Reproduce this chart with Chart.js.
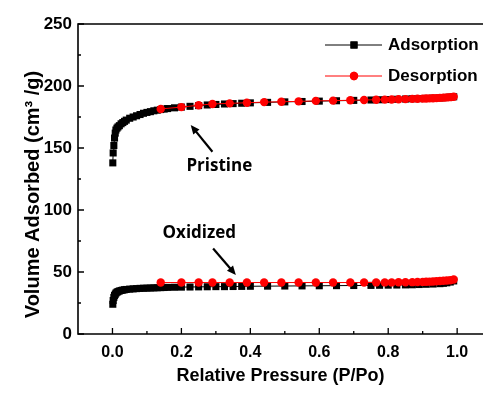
<!DOCTYPE html>
<html>
<head>
<meta charset="utf-8">
<script src="https://cdn.jsdelivr.net/npm/chart.js@4.4.1/dist/chart.umd.min.js"></script>
<style>
  html, body { margin: 0; padding: 0; background: #fff; }
  #wrap { width: 488px; height: 395px; }
</style>
</head>
<body>
<div id="wrap"><canvas id="isoChart"></canvas></div>
<script>
// relative pressure (P/Po) of the adsorption branch
var adsX = [0.001, 0.002, 0.004, 0.006, 0.008, 0.01, 0.013, 0.016, 0.02, 0.025,
  0.03, 0.035, 0.04, 0.05, 0.06, 0.07, 0.08, 0.09, 0.1, 0.11,
  0.12, 0.13, 0.14, 0.15, 0.16, 0.18, 0.2, 0.225, 0.25, 0.275,
  0.3, 0.325, 0.35, 0.375, 0.4, 0.45, 0.5, 0.55, 0.6, 0.65,
  0.7, 0.75, 0.775, 0.8, 0.825, 0.85, 0.87, 0.89, 0.91, 0.93,
  0.95, 0.96, 0.97, 0.98, 0.99];
var pristineAds = [138, 146, 152, 158, 162, 164.5, 166, 167, 168, 169.5,
  170.5, 171.5, 172.5, 174, 175, 176, 177, 178, 178.7, 179.3,
  180, 180.5, 181, 181.4, 181.8, 182.4, 183, 183.6, 184.2, 184.7,
  185.1, 185.5, 185.8, 186.1, 186.4, 186.8, 187.2, 187.5, 187.8, 188.1,
  188.4, 188.7, 188.9, 189.1, 189.3, 189.5, 189.7, 189.8, 190, 190.2,
  190.4, 190.6, 190.8, 191, 191.3];
var oxidizedAds = [24, 27, 29.5, 31, 32, 33, 33.7, 34.2, 34.7, 35.1,
  35.4, 35.7, 35.9, 36.2, 36.4, 36.6, 36.8, 36.9, 37, 37.1,
  37.2, 37.3, 37.4, 37.5, 37.6, 37.7, 37.8, 37.9, 38, 38.1,
  38.2, 38.2, 38.3, 38.4, 38.5, 38.6, 38.7, 38.8, 38.9, 39,
  39.1, 39.2, 39.3, 39.4, 39.5, 39.6, 39.7, 39.9, 40.1, 40.3,
  40.6, 40.9, 41.3, 41.9, 42.8];

// relative pressure of the desorption branch
var desX = [0.14, 0.2, 0.25, 0.29, 0.34, 0.39, 0.44, 0.49, 0.54, 0.59,
  0.64, 0.69, 0.73, 0.765, 0.79, 0.81, 0.83, 0.85, 0.87, 0.885,
  0.9, 0.91, 0.92, 0.93, 0.94, 0.95, 0.96, 0.97, 0.98, 0.99];
var pristineDes = [181.5, 183, 184.5, 185.5, 186, 186.5, 187, 187.3, 187.6, 188,
  188.2, 188.5, 188.7, 188.9, 189, 189.1, 189.3, 189.4, 189.6, 189.7,
  189.8, 189.9, 190, 190.1, 190.2, 190.4, 190.6, 190.8, 191, 191.3];
var oxidizedDes = [41.5, 41.5, 41.5, 41.5, 41.5, 41.5, 41.5, 41.5, 41.5, 41.5,
  41.5, 41.5, 41.5, 41.6, 41.6, 41.6, 41.7, 41.7, 41.8, 41.9,
  42, 42.1, 42.2, 42.3, 42.5, 42.7, 42.9, 43.1, 43.4, 43.9];

// axis ticks
var xTicks = [0, 0.2, 0.4, 0.6, 0.8, 1.0];
var xMinor = [0.1, 0.3, 0.5, 0.7, 0.9];
var yTicks = [0, 50, 100, 150, 200, 250];
var yMinor = [25, 75, 125, 175, 225];

var seriesNames = ["Adsorption", "Desorption"];
var yTitle = "Volume Adsorbed (cm\u00b3 /g)";

function pts(xs, ys) {
  return xs.map(function (x, i) { return { x: x, y: ys[i] }; });
}

var adsStyle = {
  borderColor: "#000", backgroundColor: "#000", borderWidth: 1,
  pointStyle: "rect", pointRadius: 5, pointBorderWidth: 0, order: 2
};
var desStyle = {
  borderColor: "#ff0000", backgroundColor: "#ff0000", borderWidth: 1,
  pointStyle: "circle", pointRadius: 4.2, pointBorderWidth: 0, order: 1
};

var FONT = "Arial, 'Liberation Sans', sans-serif";

// frame with inward ticks, y title, annotations and legend
var decor = {
  id: "decor",
  afterDatasetsDraw: function (chart) {
    var ctx = chart.ctx, a = chart.chartArea;
    var xs = chart.scales.x, ys = chart.scales.y;
    ctx.save();
    ctx.strokeStyle = "#000";
    ctx.lineWidth = 1.6;
    ctx.beginPath();
    ctx.moveTo(a.right, a.top); ctx.lineTo(a.left, a.top);
    ctx.lineTo(a.left, a.bottom); ctx.lineTo(a.right, a.bottom);
    ctx.stroke();

    ctx.lineWidth = 1.3;
    ctx.beginPath();
    xTicks.forEach(function (v) {
      var px = xs.getPixelForValue(v);
      ctx.moveTo(px, a.bottom); ctx.lineTo(px, a.bottom - 6);
    });
    xMinor.forEach(function (v) {
      var px = xs.getPixelForValue(v);
      ctx.moveTo(px, a.bottom); ctx.lineTo(px, a.bottom - 3);
    });
    yTicks.forEach(function (v) {
      var py = ys.getPixelForValue(v);
      ctx.moveTo(a.left, py); ctx.lineTo(a.left + 6, py);
    });
    yMinor.forEach(function (v) {
      var py = ys.getPixelForValue(v);
      ctx.moveTo(a.left, py); ctx.lineTo(a.left + 3, py);
    });
    ctx.stroke();

    // y axis title, sits a little below the middle of the axis
    ctx.save();
    ctx.translate(33, a.top + (a.bottom - a.top) * 0.55);
    ctx.rotate(-Math.PI / 2);
    ctx.fillStyle = "#000";
    ctx.font = "bold 20px " + FONT;
    ctx.textAlign = "center";
    ctx.textBaseline = "middle";
    ctx.fillText(yTitle, 0, 0);
    ctx.restore();

    // annotations
    ctx.fillStyle = "#000";
    ctx.font = "bold 17px 'Open Sans', sans-serif";
    ctx.textAlign = "center";
    ctx.textBaseline = "middle";
    ctx.fillText("Pristine", xs.getPixelForValue(0.31), ys.getPixelForValue(135));
    ctx.fillText("Oxidized", xs.getPixelForValue(0.252), ys.getPixelForValue(81.5));
    arrow(ctx, xs.getPixelForValue(0.29), ys.getPixelForValue(147),
      xs.getPixelForValue(0.227), ys.getPixelForValue(168.5));
    arrow(ctx, xs.getPixelForValue(0.292), ys.getPixelForValue(69),
      xs.getPixelForValue(0.358), ys.getPixelForValue(47.6));

    // legend
    var styles = [adsStyle, desStyle];
    var ly = [45, 76];
    ctx.font = "bold 17px " + FONT;
    ctx.textAlign = "left";
    styles.forEach(function (s, i) {
      ctx.strokeStyle = s.borderColor;
      ctx.lineWidth = 1;
      ctx.beginPath();
      ctx.moveTo(325, ly[i]); ctx.lineTo(382, ly[i]);
      ctx.stroke();
      ctx.fillStyle = s.backgroundColor;
      Chart.helpers.drawPoint(ctx, { pointStyle: s.pointStyle, radius: s.pointRadius, borderWidth: 0 }, 354, ly[i]);
      ctx.fill();
      ctx.fillStyle = "#000";
      ctx.fillText(seriesNames[i], 388, ly[i]);
    });
    ctx.restore();
  }
};

function arrow(ctx, x0, y0, x1, y1) {
  var ang = Math.atan2(y1 - y0, x1 - x0);
  var hl = 9, hw = 4;
  ctx.strokeStyle = "#000";
  ctx.fillStyle = "#000";
  ctx.lineWidth = 2.2;
  ctx.beginPath();
  ctx.moveTo(x0, y0);
  ctx.lineTo(x1 - Math.cos(ang) * hl * 0.8, y1 - Math.sin(ang) * hl * 0.8);
  ctx.stroke();
  ctx.beginPath();
  ctx.moveTo(x1, y1);
  ctx.lineTo(x1 - Math.cos(ang) * hl - Math.sin(ang) * hw, y1 - Math.sin(ang) * hl + Math.cos(ang) * hw);
  ctx.lineTo(x1 - Math.cos(ang) * hl + Math.sin(ang) * hw, y1 - Math.sin(ang) * hl - Math.cos(ang) * hw);
  ctx.closePath();
  ctx.fill();
}

var ctxIso = document.getElementById("isoChart").getContext("2d");
new Chart(ctxIso, {
  type: "line",
  data: {
    datasets: [
      Object.assign({ label: "Pristine " + seriesNames[0], data: pts(adsX, pristineAds) }, adsStyle),
      Object.assign({ label: "Oxidized " + seriesNames[0], data: pts(adsX, oxidizedAds) }, adsStyle),
      Object.assign({ label: "Pristine " + seriesNames[1], data: pts(desX, pristineDes) }, desStyle),
      Object.assign({ label: "Oxidized " + seriesNames[1], data: pts(desX, oxidizedDes) }, desStyle)
    ]
  },
  options: {
    responsive: true,
    maintainAspectRatio: false,
    animation: false,
    events: [],
    layout: { padding: { top: 24, right: 0, left: 0, bottom: 0 } },
    plugins: { legend: { display: false }, tooltip: { enabled: false } },
    elements: { line: { tension: 0, fill: false } },
    scales: {
      x: {
        type: "linear",
        min: -0.1,
        max: 1.075,
        afterBuildTicks: function (s) { s.ticks = xTicks.map(function (v) { return { value: v }; }); },
        afterFit: function (s) { s.height = 61; },
        grid: { display: false, drawTicks: false },
        border: { display: false },
        ticks: {
          padding: 9,
          color: "#000",
          font: { family: FONT, size: 16, weight: "bold" },
          callback: function (v) { return Number(v).toFixed(1); }
        },
        title: {
          display: true,
          text: "Relative Pressure (P/Po)",
          color: "#000",
          font: { family: FONT, size: 18, weight: "bold" },
          padding: { top: 0, bottom: 8 }
        }
      },
      y: {
        type: "linear",
        min: 0,
        max: 250,
        afterBuildTicks: function (s) { s.ticks = yTicks.map(function (v) { return { value: v }; }); },
        afterFit: function (s) { s.width = 78; },
        grid: { display: false, drawTicks: false },
        border: { display: false },
        ticks: {
          padding: 6,
          color: "#000",
          font: { family: FONT, size: 17, weight: "bold" }
        }
      }
    }
  },
  plugins: [decor]
});
</script>
</body>
</html>
